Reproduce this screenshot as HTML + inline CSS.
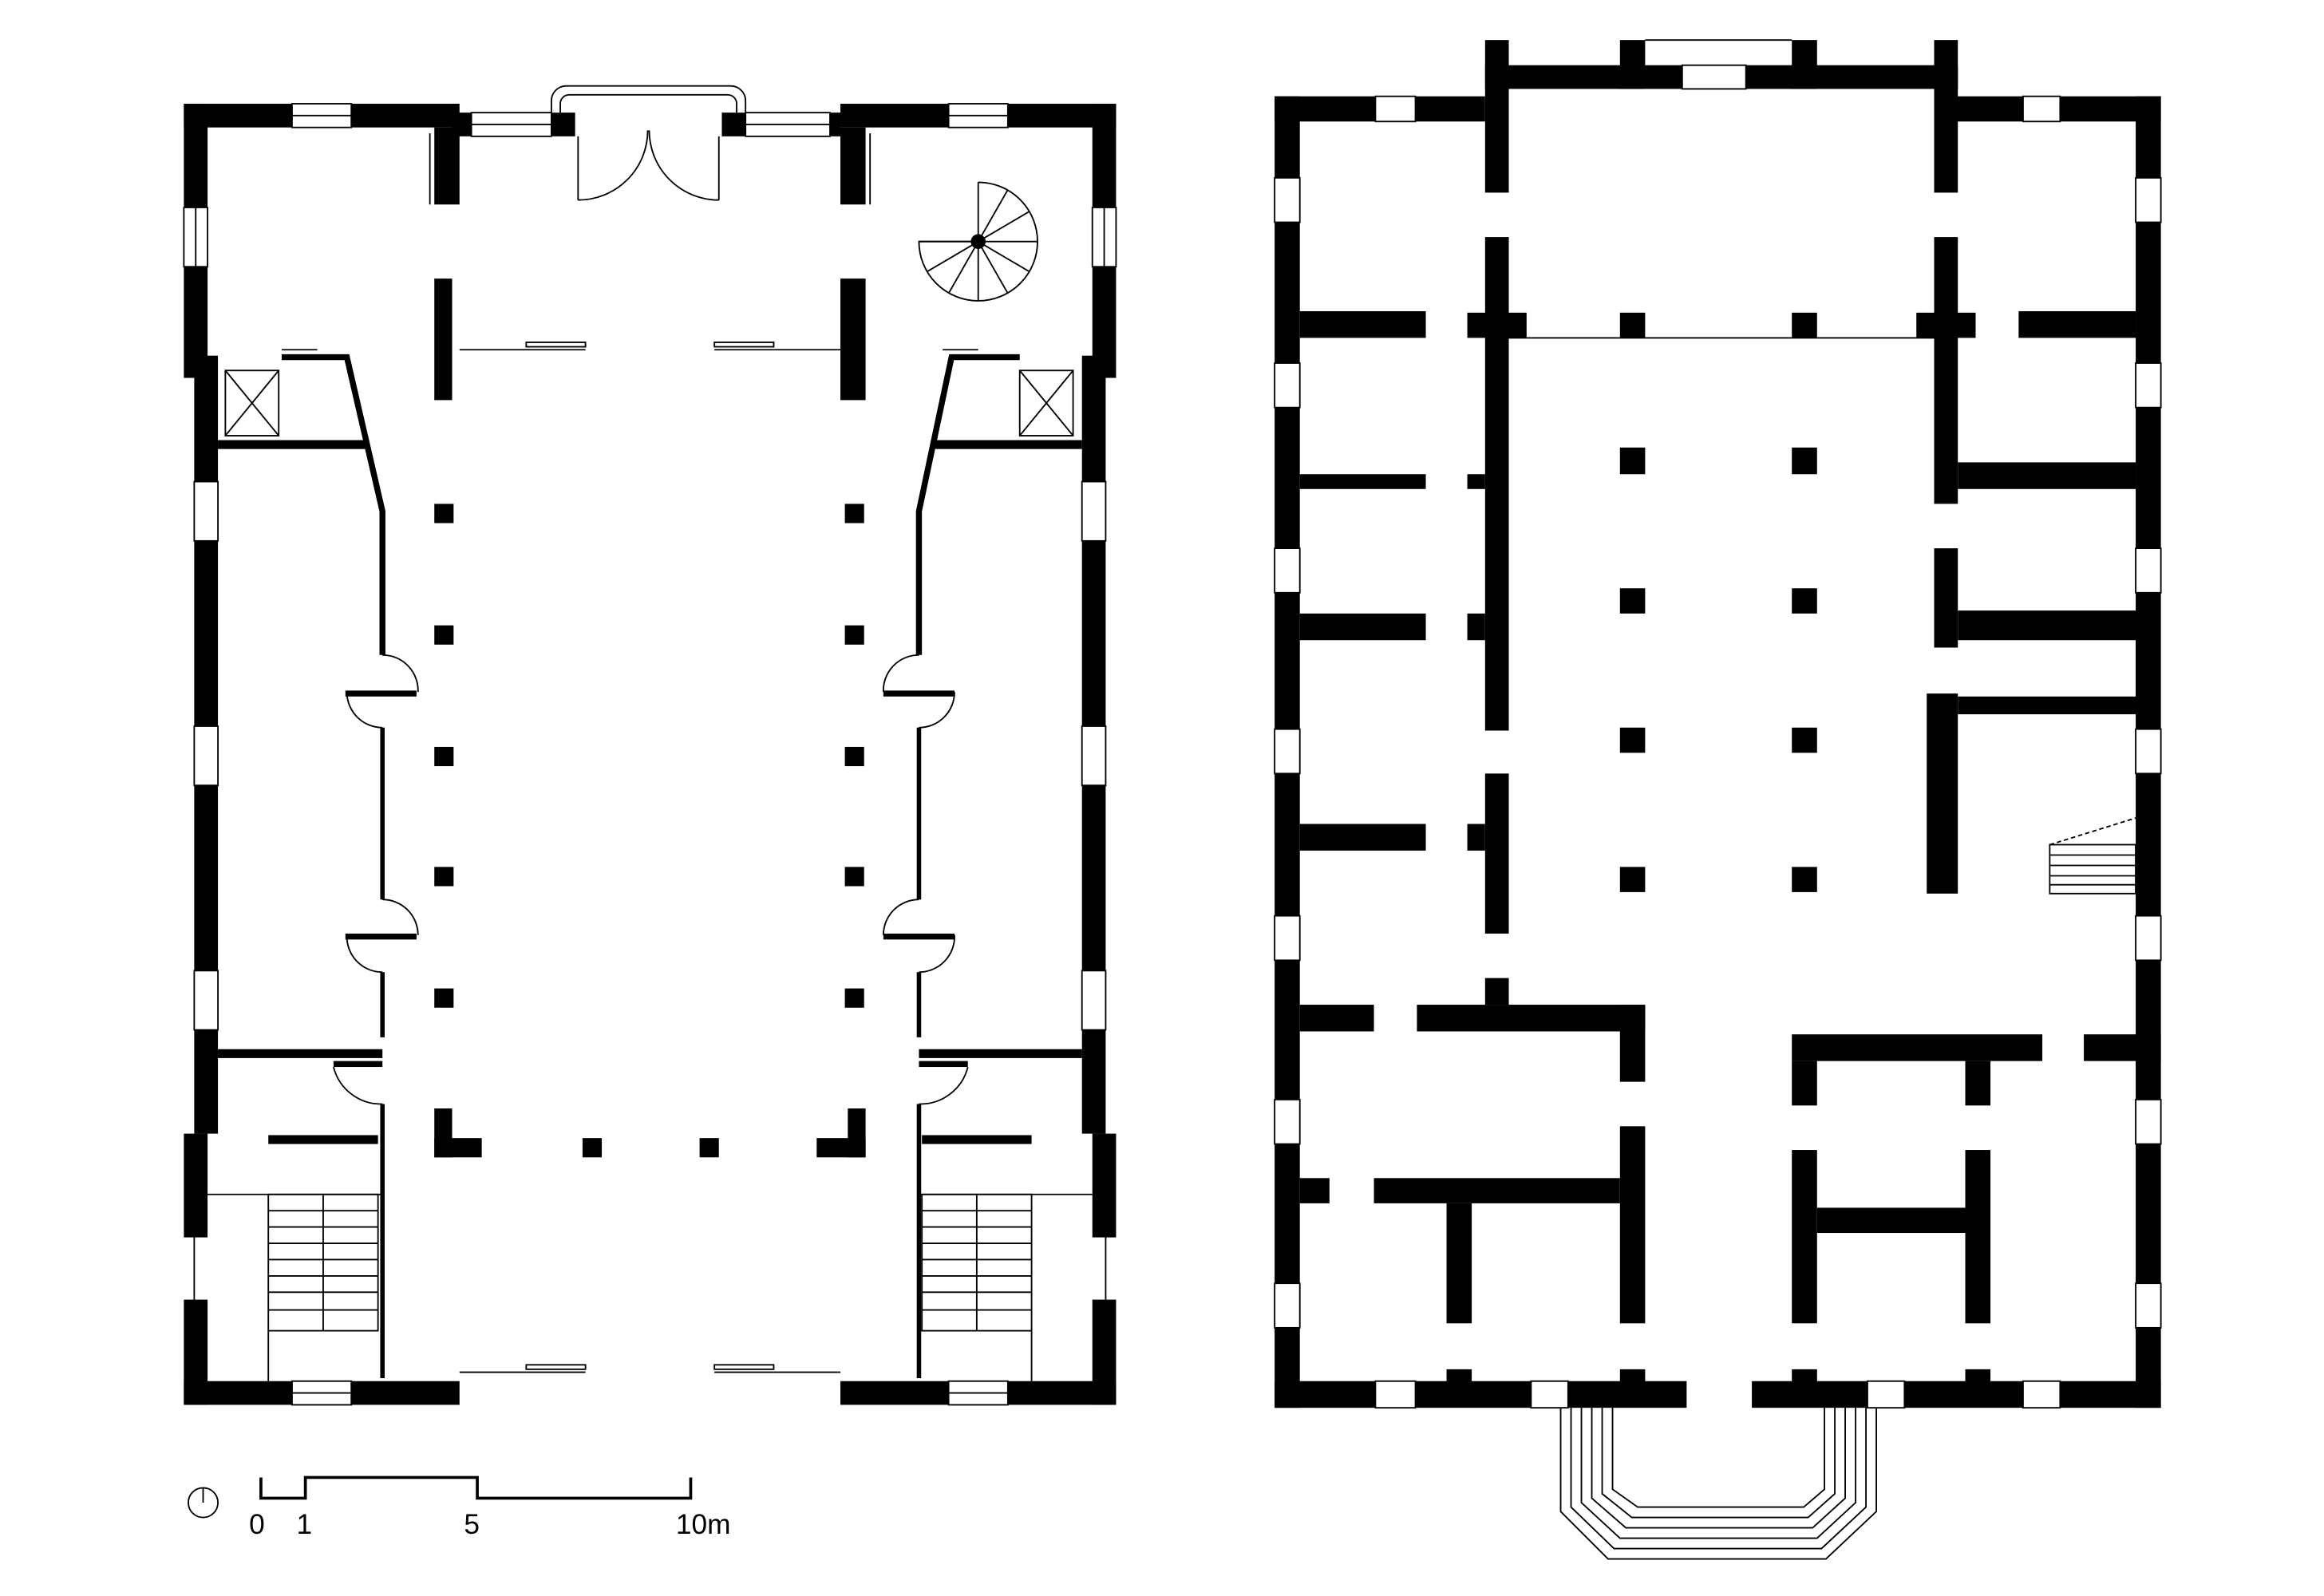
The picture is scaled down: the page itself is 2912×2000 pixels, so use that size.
<!DOCTYPE html>
<html><head><meta charset="utf-8"><style>html,body{margin:0;padding:0;background:#fff}svg{display:block}</style></head>
<body>
<svg width="2912" height="2000" viewBox="0 0 1568 1077" xmlns="http://www.w3.org/2000/svg">
<rect width="1568" height="1077" fill="#fff"/>
<g fill="#000">
<rect x="124" y="70" width="186" height="16"/>
<rect x="567" y="70" width="186" height="16"/>
<rect x="124" y="70" width="16" height="185"/>
<rect x="737" y="70" width="16" height="185"/>
<rect x="131" y="240" width="16" height="525"/>
<rect x="730" y="240" width="16" height="525"/>
<rect x="124" y="765" width="16" height="70"/>
<rect x="124" y="877" width="16" height="71"/>
<rect x="737" y="765" width="16" height="70"/>
<rect x="737" y="877" width="16" height="71"/>
<rect x="124" y="932" width="186" height="16"/>
<rect x="567" y="932" width="186" height="16"/>
<rect x="293" y="86" width="17" height="52"/>
<rect x="567" y="86" width="17" height="52"/>
<rect x="293" y="188" width="12" height="82"/>
<rect x="567" y="188" width="17" height="82"/>
<rect x="372" y="76" width="16" height="16"/>
<rect x="487" y="76" width="16" height="16"/>
<rect x="305" y="76" width="13" height="16"/>
<rect x="560" y="76" width="7" height="16"/>
<rect x="293" y="340" width="13" height="13"/><rect x="570" y="340" width="13" height="13"/>
<rect x="293" y="422" width="13" height="13"/><rect x="570" y="422" width="13" height="13"/>
<rect x="293" y="504" width="13" height="13"/><rect x="570" y="504" width="13" height="13"/>
<rect x="293" y="585" width="13" height="13"/><rect x="570" y="585" width="13" height="13"/>
<rect x="293" y="667" width="13" height="13"/><rect x="570" y="667" width="13" height="13"/>
<rect x="293" y="748" width="12" height="33"/><rect x="293" y="768" width="32" height="13"/>
<rect x="393" y="768" width="13" height="13"/><rect x="472" y="768" width="13" height="13"/>
<rect x="572" y="748" width="12" height="33"/><rect x="551" y="768" width="33" height="13"/>
<rect x="147" y="297" width="100" height="6"/>
<rect x="630" y="297" width="100" height="6"/>
<rect x="147" y="708" width="111" height="6"/>
<rect x="620" y="708" width="110" height="6"/>
<rect x="181" y="766" width="74" height="6"/>
<rect x="622" y="766" width="74" height="6"/>
<rect x="233" y="466" width="48" height="4"/><rect x="233" y="630" width="48" height="4"/>
<rect x="596" y="466" width="48" height="4"/><rect x="596" y="630" width="48" height="4"/>
<rect x="225" y="716" width="33" height="4"/><rect x="620" y="716" width="33" height="4"/>
<circle cx="660" cy="163" r="5"/>
</g>
<g fill="none" stroke="#000">
<polyline points="190,241 234,241 258,345 258,442" stroke-width="4"/>
<polyline points="258,491 258,607"  stroke-width="3"/>
<polyline points="258,656 258,700"  stroke-width="3"/>
<polyline points="258,745 258,930"  stroke-width="3"/>
<polyline points="688,241 642,241 620,345 620,442" stroke-width="4"/>
<polyline points="620,491 620,607" stroke-width="3"/>
<polyline points="620,656 620,700" stroke-width="3"/>
<polyline points="620,745 620,930" stroke-width="3"/>
<g stroke-width="1">
<rect x="152" y="250" width="36" height="44"/><line x1="152" y1="250" x2="188" y2="294"/><line x1="188" y1="250" x2="152" y2="294"/>
<rect x="688" y="250" width="36" height="44"/><line x1="688" y1="250" x2="724" y2="294"/><line x1="724" y1="250" x2="688" y2="294"/>
<path d="M258,442 A24,24 0 0 1 282,467 M234,467 A24,24 0 0 0 258,491 M258,607 A24,24 0 0 1 282,631 M234,631 A24,24 0 0 0 258,656"/>
<path d="M620,442 A24,24 0 0 0 596,467 M644,467 A24,24 0 0 1 620,491 M620,607 A24,24 0 0 0 596,631 M644,631 A24,24 0 0 1 620,656"/>
<path d="M225,720 A33,33 0 0 0 258,745 M653,720 A33,33 0 0 1 620,745"/>
<rect x="197" y="70" width="40" height="16" fill="#fff"/><line x1="197" y1="78" x2="237" y2="78"/>
<rect x="640" y="70" width="40" height="16" fill="#fff"/><line x1="640" y1="78" x2="680" y2="78"/>
<rect x="197" y="932" width="40" height="16" fill="#fff"/><line x1="197" y1="940" x2="237" y2="940"/>
<rect x="640" y="932" width="40" height="16" fill="#fff"/><line x1="640" y1="940" x2="680" y2="940"/>
<rect x="124" y="140" width="16" height="40" fill="#fff"/><line x1="132" y1="140" x2="132" y2="180"/>
<rect x="737" y="140" width="16" height="40" fill="#fff"/><line x1="745" y1="140" x2="745" y2="180"/>
<rect x="131" y="325" width="16" height="40" fill="#fff"/><rect x="131" y="490" width="16" height="40" fill="#fff"/><rect x="131" y="655" width="16" height="40" fill="#fff"/>
<rect x="730" y="325" width="16" height="40" fill="#fff"/><rect x="730" y="490" width="16" height="40" fill="#fff"/><rect x="730" y="655" width="16" height="40" fill="#fff"/>
<line x1="131" y1="835" x2="131" y2="877"/><line x1="746" y1="835" x2="746" y2="877"/>
<rect x="318" y="76" width="54" height="16"/><line x1="318" y1="84" x2="372" y2="84"/>
<rect x="503" y="76" width="57" height="16"/><line x1="503" y1="84" x2="560" y2="84"/>
<path d="M372,76 L372,68 A10,10 0 0 1 382,58 L493,58 A10,10 0 0 1 503,68 L503,76"/>
<path d="M378,76 L378,70 A6,6 0 0 1 384,64 L491,64 A6,6 0 0 1 497,70 L497,76"/>
<line x1="390" y1="92" x2="390" y2="135"/><line x1="485" y1="92" x2="485" y2="135"/>
<path d="M390,135 A47,47 0 0 0 437,88 M485,135 A47,47 0 0 1 438,88"/>
<line x1="290" y1="90" x2="290" y2="138"/><line x1="587" y1="90" x2="587" y2="138"/>
<line x1="310" y1="236" x2="395" y2="236"/><rect x="355" y="231" width="40" height="3"/>
<line x1="482" y1="236" x2="567" y2="236"/><rect x="482" y="231" width="40" height="3"/>
<line x1="190" y1="236" x2="214" y2="236"/><line x1="636" y1="236" x2="660" y2="236"/>
<line x1="310" y1="926" x2="395" y2="926"/><rect x="355" y="921" width="40" height="3"/>
<line x1="482" y1="926" x2="567" y2="926"/><rect x="482" y="921" width="40" height="3"/>
<line x1="140" y1="806" x2="258" y2="806"/><line x1="620" y1="806" x2="737" y2="806"/>
<rect x="181" y="806" width="74" height="92"/><line x1="218" y1="806" x2="218" y2="898"/>
<rect x="622" y="806" width="74" height="92"/><line x1="659" y1="806" x2="659" y2="898"/>
<path d="M181,817H255M181,828H255M181,839H255M181,850H255M181,861H255M181,872H255M181,884H255"/>
<path d="M622,817H696M622,828H696M622,839H696M622,850H696M622,861H696M622,872H696M622,884H696"/>
<line x1="181" y1="898" x2="181" y2="932"/><line x1="696" y1="898" x2="696" y2="932"/>
<path d="M660,123 A40,40 0 1 1 620,163 L660,163"/>
<path d="M660,163L660,123M660,163L680,128M660,163L694,143M660,163L700,163M660,163L694,183M660,163L680,198M660,163L660,203M660,163L640,198M660,163L626,183M660,163L620,163"/>
<circle cx="137" cy="1014" r="10"/><line x1="137" y1="1004" x2="137" y2="1014"/>
<polyline points="176,997 176,1011 206,1011 206,997 322,997 322,1011 466,1011 466,997" stroke-width="2"/>
</g>
</g>
<g font-family="Liberation Sans, sans-serif" font-size="19" fill="#000">
<text x="168" y="1035">0</text><text x="200" y="1035">1</text><text x="313" y="1035">5</text><text x="456" y="1035">10m</text>
</g>

<g fill="#000">
<rect x="860" y="65" width="17" height="885"/>
<rect x="1441" y="65" width="17" height="885"/>
<rect x="860" y="65" width="142" height="17"/>
<rect x="1305" y="65" width="153" height="17"/>
<rect x="1002" y="27" width="16" height="103"/>
<rect x="1305" y="27" width="16" height="103"/>
<rect x="1002" y="44" width="319" height="16"/>
<rect x="1093" y="27" width="17" height="33"/><rect x="1209" y="27" width="17" height="33"/>
<rect x="860" y="932" width="278" height="18"/>
<rect x="1182" y="932" width="276" height="18"/>
<rect x="976" y="924" width="17" height="10"/><rect x="1093" y="924" width="17" height="10"/>
<rect x="1209" y="924" width="17" height="10"/><rect x="1326" y="924" width="17" height="10"/>
<rect x="1093" y="211" width="17" height="17"/><rect x="1209" y="211" width="17" height="17"/>
<rect x="1093" y="302" width="17" height="18"/><rect x="1209" y="302" width="17" height="18"/>
<rect x="1093" y="397" width="17" height="17"/><rect x="1209" y="397" width="17" height="17"/>
<rect x="1093" y="491" width="17" height="17"/><rect x="1209" y="491" width="17" height="17"/>
<rect x="1093" y="585" width="17" height="17"/><rect x="1209" y="585" width="17" height="17"/>
<rect x="1002" y="160" width="16" height="333"/>
<rect x="1002" y="522" width="16" height="108"/>
<rect x="990" y="211" width="40" height="17"/>
<rect x="990" y="320" width="12" height="10"/>
<rect x="990" y="414" width="12" height="18"/>
<rect x="990" y="556" width="12" height="18"/>
<rect x="877" y="210" width="85" height="18"/>
<rect x="877" y="320" width="85" height="10"/>
<rect x="877" y="414" width="85" height="18"/>
<rect x="877" y="556" width="85" height="18"/>
<rect x="1305" y="160" width="16" height="180"/>
<rect x="1293" y="211" width="40" height="17"/>
<rect x="1362" y="210" width="79" height="18"/>
<rect x="1321" y="312" width="120" height="18"/>
<rect x="1305" y="370" width="16" height="67"/>
<rect x="1321" y="412" width="129" height="20"/>
<rect x="1441" y="432" width="9" height="50"/>
<rect x="1300" y="468" width="21" height="135"/>
<rect x="1321" y="470" width="120" height="12"/>
<rect x="877" y="678" width="50" height="18"/>
<rect x="956" y="678" width="154" height="18"/>
<rect x="1002" y="660" width="16" height="18"/>
<rect x="1093" y="678" width="17" height="52"/>
<rect x="1093" y="760" width="17" height="133"/>
<rect x="927" y="795" width="166" height="17"/>
<rect x="976" y="812" width="17" height="81"/>
<rect x="877" y="795" width="20" height="17"/>
<rect x="1209" y="698" width="169" height="18"/>
<rect x="1406" y="698" width="52" height="18"/>
<rect x="1209" y="716" width="17" height="30"/><rect x="1326" y="716" width="17" height="30"/>
<rect x="1209" y="776" width="17" height="117"/><rect x="1326" y="776" width="17" height="117"/>
<rect x="1226" y="815" width="100" height="17"/>
</g>
<g fill="#fff" stroke="#000" stroke-width="1">
<rect x="1135" y="44" width="43" height="16"/>
<rect x="928" y="65" width="27" height="17"/><rect x="1365" y="65" width="25" height="17"/>
<rect x="928" y="932" width="27" height="18"/><rect x="1033" y="932" width="25" height="18"/>
<rect x="1260" y="932" width="25" height="18"/><rect x="1365" y="932" width="25" height="18"/>
<rect x="860" y="120" width="17" height="30"/><rect x="860" y="245" width="17" height="30"/><rect x="860" y="370" width="17" height="30"/>
<rect x="860" y="492" width="17" height="30"/><rect x="860" y="618" width="17" height="30"/><rect x="860" y="742" width="17" height="30"/><rect x="860" y="866" width="17" height="30"/>
<rect x="1441" y="120" width="17" height="30"/><rect x="1441" y="245" width="17" height="30"/><rect x="1441" y="370" width="17" height="30"/>
<rect x="1441" y="492" width="17" height="30"/><rect x="1441" y="618" width="17" height="30"/><rect x="1441" y="742" width="17" height="30"/><rect x="1441" y="866" width="17" height="30"/>
</g>
<g fill="none" stroke="#000" stroke-width="1">
<line x1="1110" y1="27" x2="1209" y2="27"/>
<line x1="1018" y1="228" x2="1305" y2="228"/>
<path d="M1053,950V1020L1085,1052H1232L1266,1020V950"/>
<path d="M1060,950V1017L1089,1045H1229L1259,1017V950"/>
<path d="M1067,950V1014L1093,1038H1226L1252,1014V950"/>
<path d="M1074,950V1011L1097,1031H1223L1245,1011V950"/>
<path d="M1081,950V1008L1101,1024H1220L1238,1008V950"/>
<path d="M1088,950V1005L1105,1017H1217L1231,1005V950"/>
<rect x="1383" y="570" width="58" height="33"/>
<path d="M1383,577H1441M1383,584H1441M1383,591H1441M1383,597H1441"/>
<line x1="1383" y1="570" x2="1441" y2="552" stroke-dasharray="3,2"/>
</g>
</svg>
</body></html>
